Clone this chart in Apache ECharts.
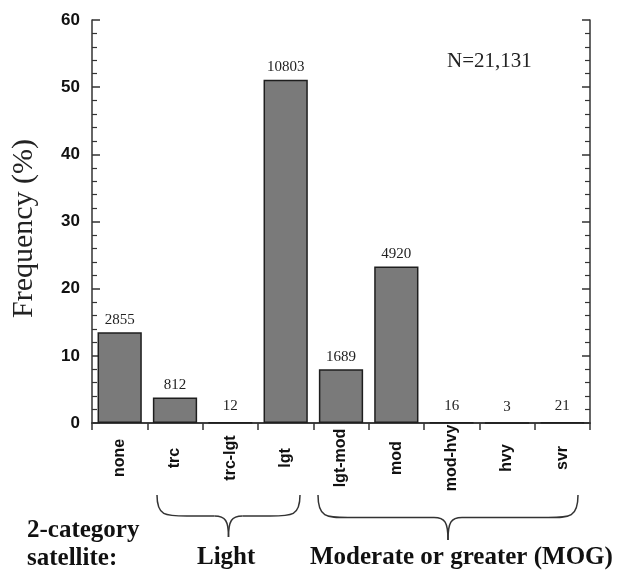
<!DOCTYPE html>
<html>
<head>
<meta charset="utf-8">
<script src="https://cdn.jsdelivr.net/npm/echarts@6/dist/echarts.min.js"></script>
<style>
  html, body { margin: 0; padding: 0; background: #fff; }
  #chart { width: 617px; height: 572px; }
</style>
</head>
<body>
<div id="chart"></div>
<script>
// turbulence categories and frequencies (%) with report counts
var categories = ['none', 'trc', 'trc-lgt', 'lgt', 'lgt-mod', 'mod', 'mod-hvy', 'hvy', 'svr'];
var freqPct = [13.5, 3.8, 0.06, 51.1, 8.0, 23.3, 0.08, 0.01, 0.1];
var counts = [2855, 812, 12, 10803, 1689, 4920, 16, 3, 21];
var yTicks = [0, 10, 20, 30, 40, 50, 60];

var serif = '"Liberation Serif", "Times New Roman", serif';
var sans = '"Liberation Sans", Arial, sans-serif';

var chart = echarts.init(document.getElementById('chart'));

var barData = freqPct.map(function (v, i) {
  return {
    value: v,
    count: counts[i],
    label: { distance: v < 1 ? 8 : 5 }
  };
});

// curly brace opening downwards, from x0 to x1, top at y0, tip at yTip
function brace(x0, x1, y0, yTip) {
  var mid = (x0 + x1) / 2;
  var yc = y0 + (yTip - y0) * 0.5;
  var st = { fill: null, stroke: '#333', lineWidth: 1.5 };
  function bz(a, b, c, d) {
    return { type: 'bezierCurve', shape: {
      x1: a[0], y1: a[1], cpx1: b[0], cpy1: b[1], cpx2: c[0], cpy2: c[1], x2: d[0], y2: d[1]
    }, style: st };
  }
  return [
    bz([x0, y0], [x0, yc], [x0 + 8, yc], [x0 + 30, yc]),
    { type: 'line', shape: { x1: x0 + 30, y1: yc, x2: mid - 14, y2: yc }, style: st },
    bz([mid - 14, yc], [mid - 3, yc], [mid, yc + 5], [mid, yTip]),
    bz([mid, yTip], [mid, yc + 5], [mid + 3, yc], [mid + 14, yc]),
    { type: 'line', shape: { x1: mid + 14, y1: yc, x2: x1 - 30, y2: yc }, style: st },
    bz([x1 - 30, yc], [x1 - 8, yc], [x1, yc], [x1, y0])
  ];
}

var graphics = [{
  type: 'text',
  x: 447,
  y: 51,
  style: { text: 'N=21,131', fontFamily: serif, fontSize: 21, fill: '#222' }
}, {
  type: 'text',
  x: 27,
  y: 517,
  style: {
    text: '2-category\nsatellite:',
    fontFamily: serif, fontWeight: 'bold', fontSize: 25, lineHeight: 28, fill: '#111'
  }
}, {
  type: 'text',
  x: 197,
  y: 545,
  style: { text: 'Light', fontFamily: serif, fontWeight: 'bold', fontSize: 25, fill: '#111' }
}, {
  type: 'text',
  x: 310,
  y: 545,
  style: { text: 'Moderate or greater (MOG)', fontFamily: serif, fontWeight: 'bold', fontSize: 25, fill: '#111' }
}].concat(brace(157, 300, 495, 537), brace(318, 578, 495, 540));

var option = {
  animation: false,
  grid: { left: 92, right: 27, top: 20, bottom: 149 },
  xAxis: [{
    type: 'category',
    data: categories,
    axisLine: { lineStyle: { color: '#333', width: 1.5 } },
    axisTick: { show: true, length: 7, lineStyle: { color: '#333', width: 1.5 } },
    axisLabel: {
      rotate: 90,
      margin: 35,
      align: 'center',
      verticalAlign: 'middle',
      fontFamily: sans,
      fontWeight: 'bold',
      fontSize: 16,
      color: '#111'
    }
  }, {
    type: 'category',
    position: 'top',
    data: categories,
    axisLine: { lineStyle: { color: '#333', width: 1.5 } },
    axisTick: { show: false },
    axisLabel: { show: false }
  }],
  yAxis: [{
    type: 'value',
    min: yTicks[0],
    max: yTicks[yTicks.length - 1],
    interval: 10,
    name: 'Frequency (%)',
    nameLocation: 'middle',
    nameGap: 53,
    nameTextStyle: { fontFamily: serif, fontSize: 30, color: '#222', padding: [0, 14, 0, 0] },
    axisLine: { show: true, lineStyle: { color: '#333', width: 1.5 } },
    axisTick: { show: true, inside: true, length: 8, lineStyle: { color: '#333', width: 1.5 } },
    minorTick: { show: true, splitNumber: 5, length: 5, lineStyle: { color: '#333', width: 1.2 } },
    splitLine: { show: false },
    axisLabel: {
      margin: 12,
      fontFamily: sans,
      fontWeight: 'bold',
      fontSize: 17,
      color: '#111'
    }
  }, {
    type: 'value',
    position: 'right',
    min: yTicks[0],
    max: yTicks[yTicks.length - 1],
    interval: 10,
    axisLine: { show: true, lineStyle: { color: '#333', width: 1.5 } },
    axisTick: { show: true, inside: true, length: 8, lineStyle: { color: '#333', width: 1.5 } },
    minorTick: { show: true, splitNumber: 5, length: 5, lineStyle: { color: '#333', width: 1.2 } },
    splitLine: { show: false },
    axisLabel: { show: false }
  }],
  series: [{
    type: 'bar',
    data: barData,
    barWidth: '80%',
    itemStyle: { color: '#7a7a7a', borderColor: '#1e1e1e', borderWidth: 1.5 },
    label: {
      show: true,
      position: 'top',
      fontFamily: serif,
      fontSize: 15,
      color: '#222',
      formatter: function (p) { return String(p.data.count); }
    }
  }],
  graphic: graphics
};

chart.setOption(option);
</script>
</body>
</html>
